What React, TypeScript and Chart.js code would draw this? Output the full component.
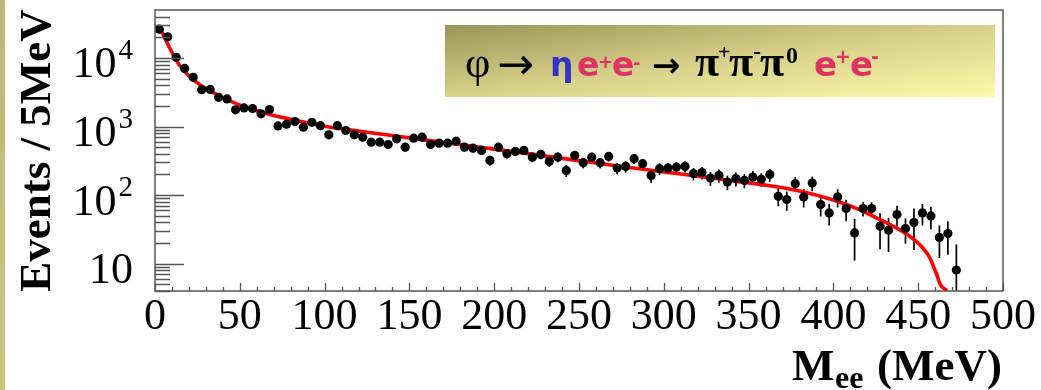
import React, { useEffect, useRef } from "react";
import { Chart, registerables } from "chart.js";

Chart.register(...registerables);

// ---------- data ----------
const binCenters = [
  2.5, 7.5, 12.5, 17.5, 22.5, 27.5, 32.5, 37.5, 42.5, 47.5,
  52.5, 57.5, 62.5, 67.5, 72.5, 77.5, 82.5, 87.5, 92.5, 97.5,
  102.5, 107.5, 112.5, 117.5, 122.5, 127.5, 132.5, 137.5, 142.5, 147.5,
  152.5, 157.5, 162.5, 167.5, 172.5, 177.5, 182.5, 187.5, 192.5, 197.5,
  202.5, 207.5, 212.5, 217.5, 222.5, 227.5, 232.5, 237.5, 242.5, 247.5,
  252.5, 257.5, 262.5, 267.5, 272.5, 277.5, 282.5, 287.5, 292.5, 297.5,
  302.5, 307.5, 312.5, 317.5, 322.5, 327.5, 332.5, 337.5, 342.5, 347.5,
  352.5, 357.5, 362.5, 367.5, 372.5, 377.5, 382.5, 387.5, 392.5, 397.5,
  402.5, 407.5, 412.5, 417.5, 422.5, 427.5, 432.5, 437.5, 442.5, 447.5,
  452.5, 457.5, 462.5, 467.5, 472.5,
];

const events = [
  26300, 20300, 10200, 7030, 5210, 3450, 3480, 2670, 2530, 1750,
  1870, 1830, 1530, 1770, 1020, 1080, 1180, 980, 1150, 1030,
  757, 1030, 875, 757, 700, 592, 592, 547, 662, 500,
  677, 700, 547, 572, 572, 611, 500, 484, 448, 321,
  500, 401, 433, 448, 358, 392, 310, 358, 229, 379,
  297, 358, 297, 366, 248, 262, 340, 287, 194, 243,
  248, 256, 262, 206, 213, 177, 194, 155, 174, 164,
  183, 170, 199, 96, 86, 147, 94, 150, 72.8, 55,
  94, 63.7, 28.1, 63.7, 63.7, 35.2, 30.8, 52.1, 32.6, 39.8,
  55, 49.7, 24.1, 27.5, 8.07,
];

const eventErrors = [
  490, 430, 300, 250, 220, 175, 177, 155, 151, 125,
  130, 128, 117, 126, 96, 99, 103, 94, 102, 96,
  83, 96, 89, 83, 79, 73, 73, 70, 77, 67,
  78, 79, 70, 72, 72, 74, 67, 66, 64, 54,
  67, 60, 62, 64, 57, 59, 53, 57, 45, 58,
  52, 57, 52, 57, 47, 49, 55, 51, 42, 47,
  47, 48, 49, 43, 44, 40, 42, 37, 40, 38,
  41, 39, 42, 27, 27, 36, 28, 36, 24, 19,
  28, 22, 17, 15, 15, 19, 16, 18, 13, 24,
  19, 18, 12, 14, 11,
];

const fitMass = [
  2.5, 5, 7.5, 10, 12.5, 15, 20, 25, 30, 40, 50, 60, 70, 85, 100,
  125, 150, 175, 200, 225, 250, 275, 300, 325, 340, 360, 380, 400,
  415, 425, 435, 445, 452, 457, 459, 461, 463, 467,
];
const fitValues = [
  29500, 21500, 16000, 12000, 9300, 7500, 5450, 4330, 3580, 2650, 2050, 1700, 1450, 1200, 1010,
  826, 683, 565, 468, 386, 318, 262, 218, 182, 162, 140, 115, 85,
  62, 47, 35.5, 25.1, 17.8, 12.0, 9.1, 6.9, 5.0, 4.05,
];

const xMajorTicks = [0, 50, 100, 150, 200, 250, 300, 350, 400, 450, 500];
const xMinorTicks = [
  10, 20, 30, 40, 60, 70, 80, 90, 110, 120, 130, 140, 160, 170, 180, 190,
  210, 220, 230, 240, 260, 270, 280, 290, 310, 320, 330, 340, 360, 370, 380, 390,
  410, 420, 430, 440, 460, 470, 480, 490,
];
const yMajorTicks = [10, 100, 1000, 10000];
const yTickBase = ["10", "10", "10", "10"];
const yTickExponent = ["", "2", "3", "4"];
const yMinorTicks = [
  4, 5, 6, 7, 8, 9, 20, 30, 40, 50, 60, 70, 80, 90,
  200, 300, 400, 500, 600, 700, 800, 900,
  2000, 3000, 4000, 5000, 6000, 7000, 8000, 9000, 20000, 30000, 40000,
];

const SERIF = "'Liberation Serif', 'Times New Roman', serif";
const SANS = "'DejaVu Sans', sans-serif";

// legend text pieces: [x, text, font, color, baseline]
const legendPieces: [number, string, string, string, number][] = [
  [465, "φ", `44px ${SERIF}`, "#000", 77],
  [497, "→", `44px ${SANS}`, "#000", 79],
  [550, "η", `bold 33px ${SANS}`, "#3333c8", 76],
  [577, "e", `bold 33px ${SANS}`, "#dc3264", 76],
  [598, "+", `bold 18px ${SANS}`, "#dc3264", 68],
  [612, "e", `bold 33px ${SANS}`, "#dc3264", 76],
  [633, "-", `bold 18px ${SANS}`, "#dc3264", 69],
  [652, "→", `bold 34px ${SANS}`, "#000", 77],
  [695, "π", `bold 44px ${SERIF}`, "#000", 76],
  [718, "+", `bold 22px ${SERIF}`, "#000", 59],
  [729, "π", `bold 44px ${SERIF}`, "#000", 76],
  [753, "-", `bold 24px ${SERIF}`, "#000", 59],
  [760, "π", `bold 44px ${SERIF}`, "#000", 76],
  [786, "0", `bold 24px ${SERIF}`, "#000", 63],
  [814, "e", `bold 34px ${SANS}`, "#dc3264", 76],
  [835, "+", `bold 19px ${SANS}`, "#dc3264", 63],
  [850, "e", `bold 34px ${SANS}`, "#dc3264", 76],
  [871, "-", `bold 19px ${SANS}`, "#dc3264", 63],
];

const decorPlugin = {
  id: "decor",
  beforeDraw(chart: any) {
    const { ctx, width, height } = chart;
    ctx.save();
    ctx.fillStyle = "#ffffff";
    ctx.fillRect(0, 0, width, height);
    const g = ctx.createLinearGradient(0, 0, 0, height);
    g.addColorStop(0, "#bcb776");
    g.addColorStop(1, "#cbc67e");
    ctx.fillStyle = g;
    ctx.fillRect(0, 0, 5, height);
    ctx.restore();
  },
  beforeDatasetsDraw(chart: any) {
    const { ctx, chartArea } = chart;
    const xs = chart.scales.x;
    const ys = chart.scales.y;
    ctx.save();
    ctx.beginPath();
    ctx.rect(chartArea.left, chartArea.top, chartArea.right - chartArea.left, chartArea.bottom - chartArea.top);
    ctx.clip();
    ctx.strokeStyle = "#000";
    ctx.lineWidth = 1.7;
    for (let i = 0; i < events.length; i++) {
      const px = xs.getPixelForValue(binCenters[i]);
      const hi = ys.getPixelForValue(events[i] + eventErrors[i]);
      const lowVal = events[i] - eventErrors[i];
      const lo = lowVal > 0 ? ys.getPixelForValue(lowVal) : chartArea.bottom + 5;
      ctx.beginPath();
      ctx.moveTo(px, hi);
      ctx.lineTo(px, lo);
      ctx.stroke();
    }
    ctx.restore();
  },
  afterDraw(chart: any) {
    const { ctx, chartArea } = chart;
    const xs = chart.scales.x;
    const ys = chart.scales.y;
    const { left, right, top, bottom } = chartArea;
    ctx.save();
    // frame
    ctx.strokeStyle = "#555";
    ctx.lineWidth = 1.5;
    ctx.strokeRect(left, top, right - left, bottom - top);
    // ticks
    ctx.lineWidth = 1.3;
    ctx.beginPath();
    yMajorTicks.forEach((v) => {
      const py = Math.round(ys.getPixelForValue(v)) + 0.5;
      ctx.moveTo(left, py);
      ctx.lineTo(left + 29, py);
    });
    yMinorTicks.forEach((v) => {
      const py = Math.round(ys.getPixelForValue(v)) + 0.5;
      ctx.moveTo(left, py);
      ctx.lineTo(left + 15, py);
    });
    xMajorTicks.forEach((v) => {
      const px = Math.round(xs.getPixelForValue(v)) + 0.5;
      ctx.moveTo(px, bottom);
      ctx.lineTo(px, bottom - 8);
    });
    xMinorTicks.forEach((v) => {
      const px = Math.round(xs.getPixelForValue(v)) + 0.5;
      ctx.moveTo(px, bottom);
      ctx.lineTo(px, bottom - 4);
    });
    ctx.stroke();

    // y tick labels with superscripts
    ctx.fillStyle = "#000";
    ctx.textBaseline = "alphabetic";
    ctx.textAlign = "right";
    const labelRight = left - 22;
    yMajorTicks.forEach((v, i) => {
      const py = ys.getPixelForValue(v);
      let xr = labelRight;
      if (yTickExponent[i]) {
        ctx.font = `29px ${SERIF}`;
        ctx.fillText(yTickExponent[i], xr, py + 1);
        xr -= ctx.measureText(yTickExponent[i]).width + 2;
      }
      ctx.font = `44px ${SERIF}`;
      ctx.fillText(yTickBase[i], xr, py + 19.5);
    });

    // x axis title  M_ee (MeV)
    ctx.textAlign = "left";
    ctx.font = `bold 45px ${SERIF}`;
    ctx.fillText("M", 792, 380);
    ctx.font = `bold 32px ${SERIF}`;
    ctx.fillText("ee", 835, 388);
    ctx.textAlign = "right";
    ctx.font = `bold 45px ${SERIF}`;
    ctx.fillText("(MeV)", right - 1, 380);

    // legend box
    const bx = 445, by = 25, bw = 550, bh = 72;
    const g = ctx.createLinearGradient(bx, by, bx + 18, by + 141);
    g.addColorStop(0, "#9a9458");
    g.addColorStop(0.5, "#d8d18a");
    g.addColorStop(1, "#fdfaa8");
    ctx.fillStyle = g;
    ctx.fillRect(bx, by, bw, bh);
    ctx.textAlign = "left";
    legendPieces.forEach(([x, t, f, c, b]) => {
      ctx.font = f;
      ctx.fillStyle = c;
      ctx.fillText(t, x, b);
    });
    ctx.restore();
  },
};

export default function App() {
  const canvasRef = useRef<HTMLCanvasElement | null>(null);

  useEffect(() => {
    const canvas = canvasRef.current;
    if (!canvas) return;
    const pointData = binCenters.map((m, i) => ({ x: m, y: events[i] }));
    const fitData = fitMass.map((m, i) => ({ x: m, y: fitValues[i] }));
    const chart = new Chart(canvas, {
      type: "scatter",
      data: {
        datasets: [
          {
            label: "Data",
            data: pointData,
            backgroundColor: "#000",
            borderColor: "#000",
            pointRadius: 4.6,
            pointBorderWidth: 0,
            showLine: false,
          },
          {
            label: "Fit",
            data: fitData,
            showLine: true,
            borderColor: "#ff0000",
            borderWidth: 3.6,
            pointRadius: 0,
            cubicInterpolationMode: "monotone",
            fill: false,
          },
        ],
      },
      options: {
        responsive: false,
        animation: false,
        events: [],
        layout: { padding: { top: 10, right: 38, left: 0, bottom: 0 } },
        plugins: {
          legend: { display: false },
          tooltip: { enabled: false },
        },
        scales: {
          x: {
            type: "linear",
            min: 0,
            max: 500,
            grid: { display: false, drawTicks: false },
            border: { display: false },
            afterBuildTicks: (s: any) => {
              s.ticks = xMajorTicks.map((v) => ({ value: v }));
            },
            afterFit: (s: any) => {
              s.height = 99;
            },
            ticks: {
              color: "#000",
              padding: 0,
              maxRotation: 0,
              autoSkip: false,
              font: { family: SERIF, size: 44 },
              callback: (v: any) => String(v),
            },
          },
          y: {
            type: "logarithmic",
            min: 4,
            max: 50000,
            grid: { display: false, drawTicks: false },
            border: { display: false },
            afterBuildTicks: (s: any) => {
              s.ticks = yMajorTicks.map((v) => ({ value: v }));
            },
            afterFit: (s: any) => {
              s.width = 155;
            },
            ticks: { display: false },
            title: {
              display: true,
              text: "Events / 5MeV",
              color: "#000",
              font: { family: SERIF, size: 45, weight: "bold" },
              padding: { top: 11, bottom: 0 },
            },
          },
        },
      },
      plugins: [decorPlugin],
    });
    return () => chart.destroy();
  }, []);

  return (
    <div style={{ position: "fixed", left: 0, top: 0, width: 1041, height: 390, background: "#fff" }}>
      <canvas ref={canvasRef} width={1041} height={390} style={{ display: "block" }} />
    </div>
  );
}
